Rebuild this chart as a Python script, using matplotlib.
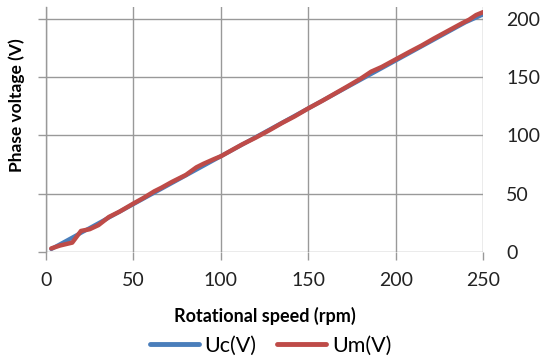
import matplotlib
matplotlib.use("Agg")
import matplotlib.pyplot as plt

# Rotational speed (rpm) and phase voltages (V)
speed_c = [3, 10, 20, 30, 40, 50, 60, 70, 80, 90, 100, 110, 120, 130, 140, 150,
           160, 170, 180, 190, 200, 210, 220, 230, 240, 250]
uc = [2.5, 8.2, 16.4, 24.6, 32.8, 41.0, 49.2, 57.4, 65.6, 73.8, 82.0, 90.2, 98.4,
      106.6, 114.8, 123.0, 131.2, 139.4, 147.6, 155.8, 164.0, 172.2, 180.4, 188.6,
      196.8, 203.5]

speed_m = [3, 8, 15, 20, 25, 30, 36, 42, 50, 56, 62, 66, 72, 80, 86, 90, 96, 100,
           106, 112, 120, 128, 135, 142, 150, 158, 165, 172, 180, 186, 192, 200,
           208, 215, 222, 230, 238, 242, 246, 250]
um = [3.0, 5.5, 8.0, 18.0, 19.5, 23.0, 30.0, 34.5, 41.5, 46.5, 52.0, 55.0, 60.0,
      66.0, 72.5, 75.5, 79.5, 82.0, 87.0, 92.0, 98.0, 104.5, 110.5, 116.0, 123.0,
      129.5, 135.5, 141.5, 148.5, 154.5, 158.5, 165.0, 171.5, 177.0, 183.0, 189.5,
      196.0, 199.0, 203.0, 205.5]

x_ticks = [0, 50, 100, 150, 200, 250]
y_ticks = [0, 50, 100, 150, 200]

plt.rcParams['font.family'] = ['Lato', 'DejaVu Sans']

fig = plt.figure(figsize=(5.44, 3.62), dpi=100)
ax = fig.add_axes([0.0846, 0.304, 0.8034, 0.677])

grid_col = '#999999'
ax.plot(speed_c, uc, color='#4A7EBB', lw=3.0, label='Uc(V)', solid_capstyle='round', zorder=3)
ax.plot(speed_m, um, color='#BE4B48', lw=3.2, label='Um(V)', solid_capstyle='round', zorder=4)

ax.set_xlim(0, 250)
ax.set_ylim(0, 210)
ax.set_xticks(x_ticks)
ax.set_yticks(y_ticks)
ax.grid(True, color=grid_col, lw=1.0)

for s in ['top', 'right', 'bottom']:
    ax.spines[s].set_visible(False)
ax.spines['left'].set_color(grid_col)
ax.spines['left'].set_linewidth(1.0)

ax.tick_params(axis='x', direction='out', length=6, width=1.0, color=grid_col,
               labelsize=14, pad=8.5, labelcolor='#222222')
ax.tick_params(axis='y', direction='out', length=6, width=1.0, color=grid_col,
               left=True, right=False, labelleft=False, labelright=True,
               labelsize=14, pad=10.5, labelcolor='#222222')

ax.set_xlabel('Rotational speed (rpm)', fontsize=13, fontweight='bold', labelpad=13)
ax.text(-0.067, 0.60, 'Phase voltage (V)', transform=ax.transAxes, rotation=90,
        ha='center', va='center', fontsize=12.5, fontweight='bold')

leg = fig.legend(loc='center', bbox_to_anchor=(0.497, 0.045), ncol=2, frameon=False,
                 fontsize=15.5, handlelength=2.3, handletextpad=0.25, columnspacing=0.95)
for h in leg.get_lines():
    h.set_linewidth(3.5)

fig.savefig('out.png', dpi=100)
